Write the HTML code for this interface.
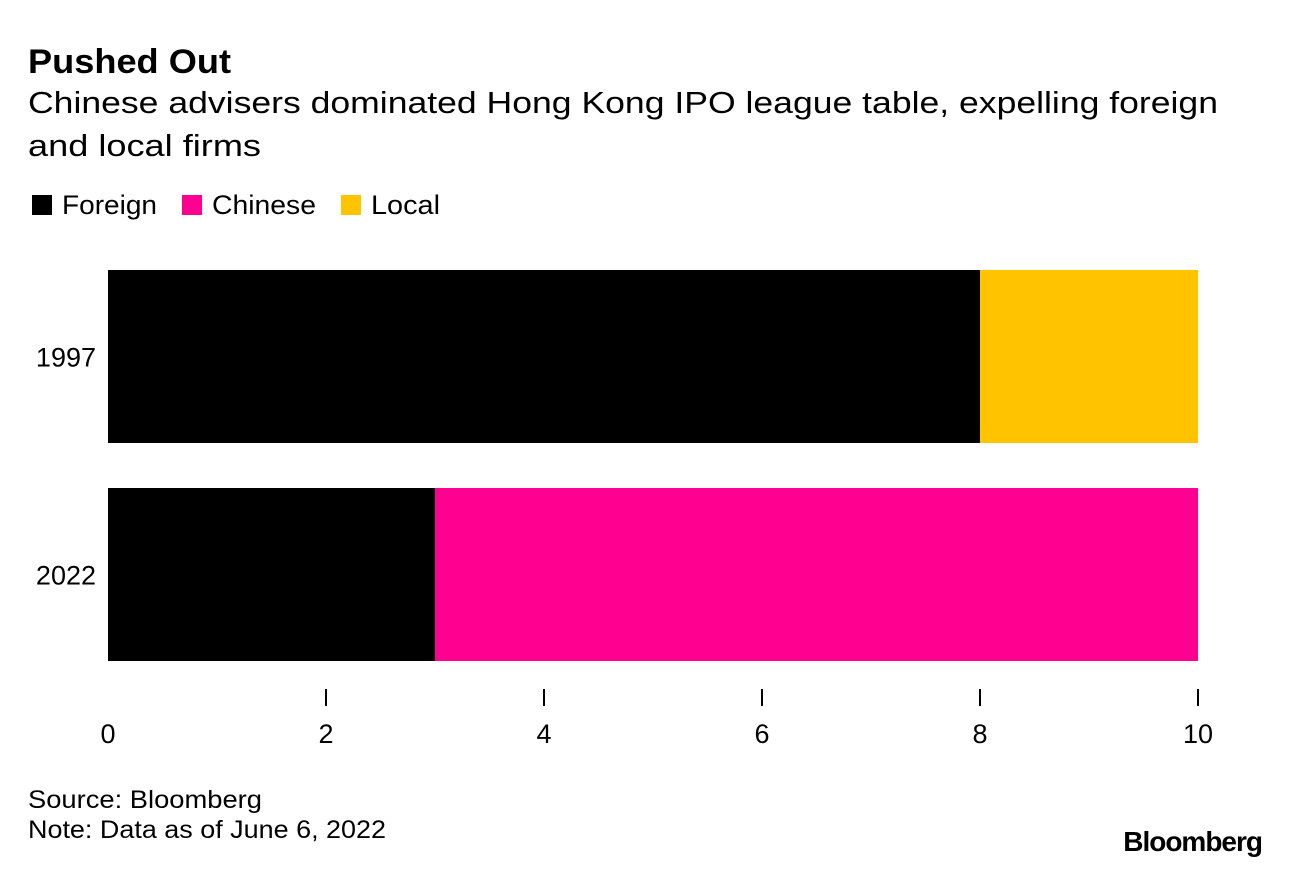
<!DOCTYPE html>
<html><head><meta charset="utf-8"><style>
body{margin:0;background:#fff;font-family:"Liberation Sans",sans-serif;}
svg text{font-family:"Liberation Sans",sans-serif;}
</style></head><body>
<svg width="1290" height="868" viewBox="0 0 1290 868">
<text x="28" y="73" font-size="34" font-weight="bold" fill="#000" textLength="203" lengthAdjust="spacingAndGlyphs">Pushed Out</text>
<text x="28" y="113" font-size="31" fill="#000" textLength="1190" lengthAdjust="spacingAndGlyphs">Chinese advisers dominated Hong Kong IPO league table, expelling foreign</text>
<text x="28" y="156" font-size="31" fill="#000" textLength="233" lengthAdjust="spacingAndGlyphs">and local firms</text>
<g>
<rect x="32" y="195" width="20" height="20" fill="#000"/>
<text x="62" y="214" font-size="27" textLength="95" lengthAdjust="spacingAndGlyphs">Foreign</text>
<rect x="182" y="195" width="20" height="20" fill="#ff0090"/>
<text x="212" y="214" font-size="27" textLength="104" lengthAdjust="spacingAndGlyphs">Chinese</text>
<rect x="341" y="195" width="20" height="20" fill="#ffc300"/>
<text x="371" y="214" font-size="27" textLength="69" lengthAdjust="spacingAndGlyphs">Local</text>
</g>
<g id="plot"></g>
<text x="28" y="808" font-size="25" textLength="234" lengthAdjust="spacingAndGlyphs">Source: Bloomberg</text>
<text x="28" y="838" font-size="25" textLength="358" lengthAdjust="spacingAndGlyphs">Note: Data as of June 6, 2022</text>
<text x="1262" y="851" font-size="28" font-weight="bold" text-anchor="end" letter-spacing="-1">Bloomberg</text>
</svg>
<script>
const categories = ["1997", "2022"];
const foreign = [8, 3];
const chinese = [0, 7];
const local = [2, 0];
const ticks = [0, 2, 4, 6, 8, 10];
const NS = "http://www.w3.org/2000/svg";
const g = document.getElementById("plot");
const x = v => 108 + v * 109;
const yTop = i => 270 + i * 218;
const bh = 173;
function mk(tag, attrs){const e=document.createElementNS(NS,tag);for(const k in attrs)e.setAttribute(k,attrs[k]);g.appendChild(e);return e;}
const series = [["foreign", foreign, "#000"], ["chinese", chinese, "#ff0090"], ["local", local, "#ffc300"]];
categories.forEach((c, i) => {
  let acc = 0;
  series.forEach(([n, arr, col]) => {
    const v = arr[i];
    if (v > 0) {
      const r = mk("rect", {x: x(acc), y: yTop(i), width: x(acc + v) - x(acc), height: bh, fill: col});
      
      
    }
    acc += v;
  });
  const t = mk("text", {x: 96, y: yTop(i) + bh / 2 + 10, "font-size": 27, "text-anchor": "end"});
  t.textContent = c;
  
  
});
ticks.forEach(v => {
  if (v > 0) {
    const l = mk("line", {x1: x(v), x2: x(v), y1: 689, y2: 706, stroke: "#000", "stroke-width": 2});
    
    
  }
  const t = mk("text", {x: x(v), y: 743, "font-size": 27, "text-anchor": "middle"});
  t.textContent = v;
  
  
});
</script>
</body></html>
